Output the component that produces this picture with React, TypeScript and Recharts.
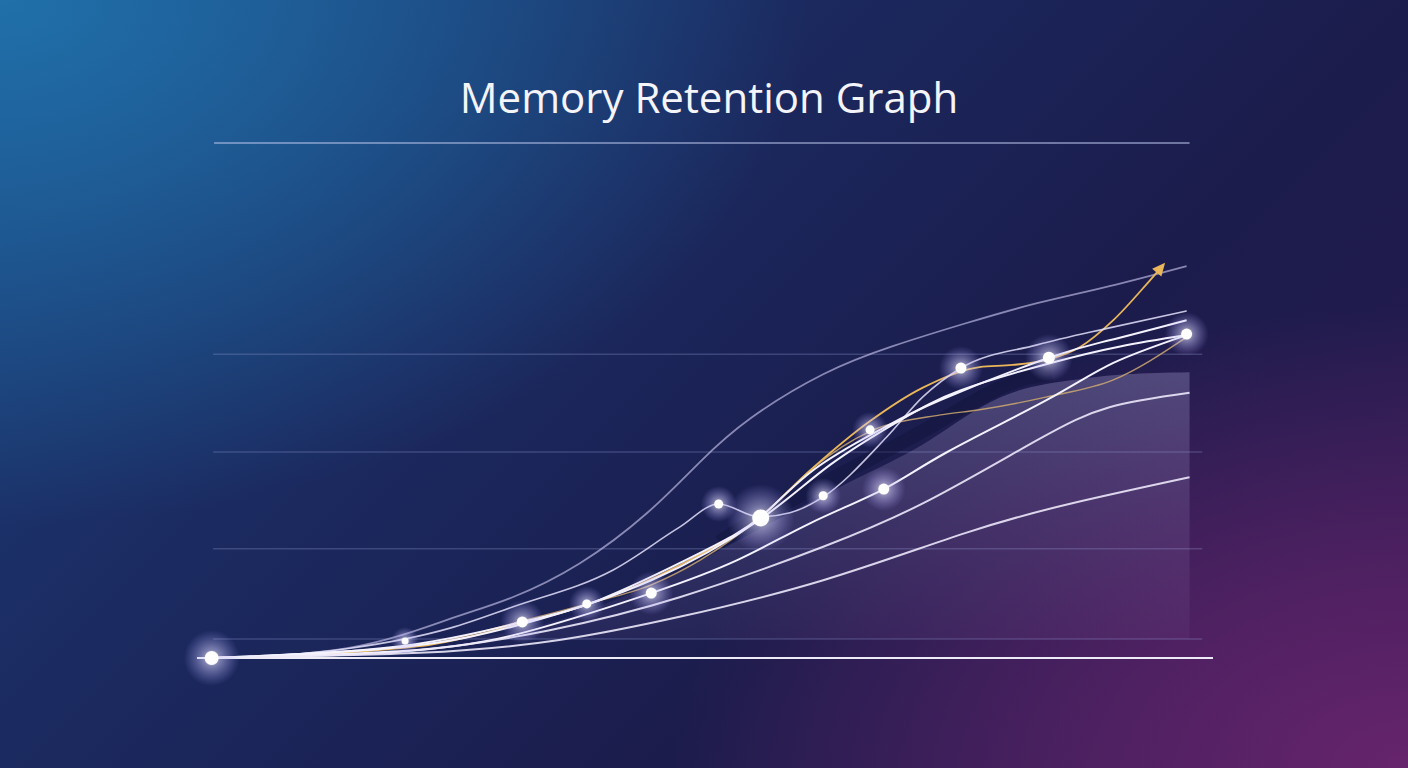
import {
  ComposedChart,
  Line,
  Area,
  Scatter,
  XAxis,
  YAxis,
  ReferenceLine,
} from 'recharts'

// x = study time (0–100), y = retention level (0–100)
type Pt = { x: number; y: number }
type Glow = { x: number; y: number; r: number }

const GRID_LEVELS = [3.7, 21.2, 40.0, 59.0]

const topCurve: Pt[] = [
  { x: 0, y: 0 }, { x: 13.9, y: 1.9 }, { x: 24.1, y: 7.4 }, { x: 30.8, y: 11.8 },
  { x: 37.7, y: 18.4 }, { x: 44.6, y: 28.2 }, { x: 50.0, y: 38.1 }, { x: 55.2, y: 46.6 },
  { x: 62.6, y: 55.1 }, { x: 69.8, y: 60.6 }, { x: 77.2, y: 65.0 }, { x: 84.5, y: 68.9 },
  { x: 91.9, y: 72.2 }, { x: 99.8, y: 76.1 },
]

const kinkCurve: Pt[] = [
  { x: 0, y: 0 }, { x: 14.2, y: 1.9 }, { x: 24.4, y: 5.8 }, { x: 30.8, y: 9.9 },
  { x: 41.1, y: 17.1 }, { x: 47.9, y: 25.4 }, { x: 51.9, y: 29.9 }, { x: 56.1, y: 27.4 },
  { x: 59.2, y: 28.2 }, { x: 62.6, y: 31.3 }, { x: 69.1, y: 42.9 }, { x: 72.8, y: 50.7 },
  { x: 76.7, y: 56.3 }, { x: 84.5, y: 60.8 }, { x: 91.9, y: 64.1 }, { x: 99.8, y: 67.4 },
]

const whiteUpper: Pt[] = [
  { x: 0, y: 0 }, { x: 19.3, y: 2.3 }, { x: 31.8, y: 7.0 }, { x: 39.7, y: 11.3 },
  { x: 50.0, y: 20.4 }, { x: 56.2, y: 27.4 }, { x: 61.6, y: 36.5 }, { x: 68.4, y: 44.3 },
  { x: 74.6, y: 50.1 }, { x: 85.7, y: 58.3 }, { x: 91.9, y: 61.7 }, { x: 99.8, y: 65.6 },
]

const whiteMid: Pt[] = [
  { x: 0, y: 0 }, { x: 19.3, y: 2.1 }, { x: 31.8, y: 6.6 }, { x: 45.0, y: 15.1 },
  { x: 56.2, y: 27.0 }, { x: 63.3, y: 37.5 }, { x: 70.5, y: 46.2 }, { x: 76.7, y: 52.0 },
  { x: 85.7, y: 57.2 }, { x: 93.0, y: 60.5 }, { x: 99.8, y: 62.7 },
]

const goldThin: Pt[] = [
  { x: 0, y: 0 }, { x: 21.3, y: 2.5 }, { x: 31.8, y: 7.2 }, { x: 38.4, y: 10.5 },
  { x: 45.0, y: 14.2 }, { x: 50.0, y: 19.0 }, { x: 56.2, y: 27.4 }, { x: 61.6, y: 37.0 },
  { x: 67.4, y: 44.0 }, { x: 74.6, y: 47.2 }, { x: 78.6, y: 48.2 }, { x: 85.5, y: 50.7 },
  { x: 92.3, y: 54.0 }, { x: 99.8, y: 62.3 },
]

const goldArrow: Pt[] = [
  { x: 0, y: 0 }, { x: 21.3, y: 2.3 }, { x: 31.8, y: 6.8 }, { x: 38.4, y: 10.3 },
  { x: 47.9, y: 18.0 }, { x: 56.2, y: 27.4 }, { x: 61.6, y: 37.0 }, { x: 67.4, y: 46.0 },
  { x: 72.8, y: 52.5 }, { x: 78.6, y: 56.5 }, { x: 82.0, y: 56.9 }, { x: 85.7, y: 58.0 },
  { x: 88.9, y: 60.4 }, { x: 92.3, y: 65.6 }, { x: 95.8, y: 72.8 }, { x: 97.4, y: 76.3 },
]

const whiteLow1: Pt[] = [
  { x: 0, y: 0 }, { x: 21.3, y: 1.6 }, { x: 33.6, y: 5.8 }, { x: 45.0, y: 12.6 },
  { x: 53.8, y: 19.0 }, { x: 61.3, y: 26.2 }, { x: 68.8, y: 32.8 }, { x: 75.3, y: 40.0 },
  { x: 85.5, y: 50.1 }, { x: 92.3, y: 57.3 }, { x: 99.8, y: 62.7 },
]

const whiteLow2: Pt[] = [
  { x: 0, y: 0 }, { x: 19.3, y: 1.2 }, { x: 34.6, y: 5.4 }, { x: 47.9, y: 11.8 },
  { x: 62.6, y: 21.6 }, { x: 73.5, y: 30.7 }, { x: 84.5, y: 42.3 }, { x: 91.9, y: 48.7 },
  { x: 100.1, y: 51.5 },
]

const whiteLow3: Pt[] = [
  { x: 0, y: 0 }, { x: 21.3, y: 1.0 }, { x: 35.6, y: 3.5 }, { x: 47.9, y: 8.0 },
  { x: 62.6, y: 15.1 }, { x: 77.2, y: 24.3 }, { x: 88.2, y: 30.1 }, { x: 100.1, y: 35.1 },
]

const retainedArea: Pt[] = [
  { x: 19.3, y: 3.7 }, { x: 31.6, y: 5.4 }, { x: 44.9, y: 14.2 }, { x: 56.2, y: 25.2 },
  { x: 66.3, y: 35.1 }, { x: 73.5, y: 42.3 }, { x: 80.8, y: 50.7 }, { x: 88.2, y: 54.0 },
  { x: 93.6, y: 55.1 }, { x: 100.1, y: 55.5 },
]

// dark band just above the area's edge
const shadowBand: Pt[] = [
  { x: 52.0, y: 22.5 }, { x: 56.2, y: 27.4 }, { x: 66.3, y: 37.6 }, { x: 73.5, y: 44.8 },
  { x: 80.8, y: 52.6 }, { x: 86.0, y: 55.2 },
]

const glowDots: Glow[] = [
  { x: 0, y: 0, r: 7 },
  { x: 19.8, y: 3.3, r: 3.5 },
  { x: 31.8, y: 7.0, r: 5.5 },
  { x: 38.4, y: 10.5, r: 4.5 },
  { x: 45.0, y: 12.6, r: 5.5 },
  { x: 51.9, y: 29.9, r: 4.5 },
  { x: 56.2, y: 27.2, r: 8.5 },
  { x: 62.6, y: 31.5, r: 4.5 },
  { x: 67.4, y: 44.3, r: 4.5 },
  { x: 68.8, y: 32.8, r: 5.5 },
  { x: 76.7, y: 56.3, r: 5.5 },
  { x: 85.7, y: 58.3, r: 6 },
  { x: 99.8, y: 62.9, r: 5.5 },
]

const WHITE = '#f4f2ff'
const FAINT = 'rgba(205,200,240,0.62)'
const GOLD = '#eab65a'

const GlowDot = (props: any) => {
  const { cx, cy, payload } = props
  if (cx == null || cy == null) return null
  const r = payload.r
  return (
    <g>
      <circle cx={cx} cy={cy} r={r * 4} fill="url(#glow)" />
      <circle cx={cx} cy={cy} r={r} fill="#ffffff" />
    </g>
  )
}

// arrow head at the end of the gold line
const ArrowDot = (props: any) => {
  const { cx, cy, index } = props
  if (index !== goldArrow.length - 1) return <g key={index} />
  const a = (-50 * Math.PI) / 180
  const ux = Math.cos(a)
  const uy = Math.sin(a)
  const tipX = cx + ux * 3
  const tipY = cy + uy * 3
  const bx = tipX - ux * 13
  const by = tipY - uy * 13
  const px = -uy * 6
  const py = ux * 6
  return (
    <polygon
      key={index}
      points={`${tipX},${tipY} ${bx + px},${by + py} ${bx - px},${by - py}`}
      fill={GOLD}
    />
  )
}

export default function App() {
  return (
    <div
      style={{
        position: 'absolute',
        left: 0,
        top: 0,
        width: 1408,
        height: 768,
        overflow: 'hidden',
        background:
          'radial-gradient(ellipse 80% 95% at 0% 0%, #2070aa 0%, rgba(32,112,170,0.6) 30%, rgba(30,60,120,0) 72%),' +
          'radial-gradient(ellipse 70% 80% at 100% 100%, #66246c 0%, rgba(102,36,108,0.6) 35%, rgba(80,30,100,0) 75%),' +
          'linear-gradient(135deg, #1c3f7a 0%, #1b2a60 35%, #1b1c4c 65%, #2a1a50 100%)',
      }}
    >
      <div
        style={{
          position: 'absolute',
          left: 0,
          top: 76,
          width: 1418,
          textAlign: 'center',
          fontFamily: '"Open Sans", sans-serif',
          fontSize: 42,
          lineHeight: '42px',
          color: '#f4f4fa',
        }}
      >
        Memory Retention Graph
      </div>
      <ComposedChart
        width={1408}
        height={768}
        margin={{ top: 143, right: 195, bottom: 110, left: 197 }}
        style={{ position: 'absolute', left: 0, top: 0 }}
      >
        <defs>
          <radialGradient id="glow">
            <stop offset="0%" stopColor="#ffffff" stopOpacity={0.95} />
            <stop offset="30%" stopColor="#dcd8ff" stopOpacity={0.5} />
            <stop offset="100%" stopColor="#a9a0ff" stopOpacity={0} />
          </radialGradient>
          <linearGradient id="areaFill" x1="0" y1="0" x2="0" y2="1">
            <stop offset="0%" stopColor="#aaa2d2" stopOpacity={0.55} />
            <stop offset="100%" stopColor="#8a6aa8" stopOpacity={0.16} />
          </linearGradient>
        </defs>
        <XAxis type="number" dataKey="x" domain={[-1.5, 102.5]} hide />
        <YAxis type="number" dataKey="y" domain={[0, 100]} hide />

        <ReferenceLine
          segment={[{ x: 0.25, y: 100 }, { x: 100.1, y: 100 }]}
          stroke="rgba(190,198,235,0.7)"
          strokeWidth={1.5}
        />
        {GRID_LEVELS.map(v => (
          <ReferenceLine
            key={v}
            segment={[{ x: 0.15, y: v }, { x: 101.4, y: v }]}
            stroke="rgba(150,160,215,0.28)"
            strokeWidth={1.5}
          />
        ))}

        <Area
          data={retainedArea}
          dataKey="y"
          type="natural"
          baseValue={3.7}
          fill="url(#areaFill)"
          stroke="none"
          isAnimationActive={false}
        />
        <Line data={shadowBand} dataKey="y" type="natural" stroke="#12133a" strokeOpacity={0.45} strokeWidth={14} dot={false} isAnimationActive={false} />

        <Line data={topCurve} dataKey="y" type="natural" stroke={FAINT} strokeWidth={1.8} dot={false} isAnimationActive={false} />
        <Line data={goldThin} dataKey="y" type="monotone" stroke="#cfa971" strokeOpacity={0.85} strokeWidth={1.4} dot={false} isAnimationActive={false} />
        <Line data={goldArrow} dataKey="y" type="monotone" stroke={GOLD} strokeWidth={1.8} dot={ArrowDot} isAnimationActive={false} />
        <Line data={kinkCurve} dataKey="y" type="monotone" stroke="rgba(228,225,250,0.85)" strokeWidth={1.6} dot={false} isAnimationActive={false} />
        <Line data={whiteUpper} dataKey="y" type="natural" stroke={WHITE} strokeWidth={2} dot={false} isAnimationActive={false} />
        <Line data={whiteMid} dataKey="y" type="natural" stroke={WHITE} strokeWidth={2} dot={false} isAnimationActive={false} />
        <Line data={whiteLow1} dataKey="y" type="natural" stroke={WHITE} strokeWidth={2} dot={false} isAnimationActive={false} />
        <Line data={whiteLow2} dataKey="y" type="natural" stroke="rgba(236,232,250,0.9)" strokeWidth={2} dot={false} isAnimationActive={false} />
        <Line data={whiteLow3} dataKey="y" type="natural" stroke="rgba(236,232,250,0.9)" strokeWidth={2} dot={false} isAnimationActive={false} />

        <ReferenceLine
          segment={[{ x: -1.5, y: 0 }, { x: 102.5, y: 0 }]}
          stroke="#ecebf6"
          strokeWidth={2}
        />

        <Scatter data={glowDots} dataKey="y" shape={GlowDot} isAnimationActive={false} />
      </ComposedChart>
    </div>
  )
}
